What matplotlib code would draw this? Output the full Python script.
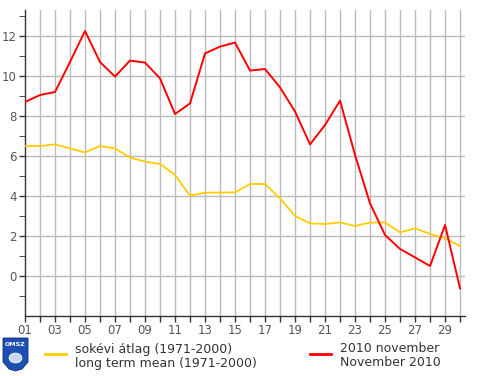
import matplotlib.pyplot as plt
from matplotlib.patches import Polygon, Circle
from matplotlib.lines import Line2D

# napok
days = list(range(1, 31))
# sokévi átlag (1971-2000)
mean_temp = [6.5, 6.5, 6.58, 6.38, 6.18, 6.5, 6.38, 5.92, 5.72, 5.6,
             5.05, 4.02, 4.17, 4.17, 4.18, 4.6, 4.6, 3.88, 3.0, 2.63,
             2.6, 2.68, 2.5, 2.67, 2.68, 2.18, 2.38, 2.1, 1.88, 1.5]
# 2010 november
nov2010 = [8.7, 9.05, 9.2, 10.7, 12.25, 10.7, 9.97, 10.77, 10.67, 9.88,
           8.1, 8.63, 11.13, 11.47, 11.67, 10.27, 10.35, 9.43, 8.22, 6.58,
           7.55, 8.77, 6.05, 3.63, 2.05, 1.35, 0.93, 0.5, 2.55, -0.62]
xlabels = ['%02d' % d if d % 2 == 1 else '' for d in days]

fig = plt.figure(figsize=(4.9, 3.76), dpi=100)
ax = fig.add_axes([25/490, 1-316/376, 440/490, 306/376])

ax.plot(days, mean_temp, color='#ffcc00', lw=1.3, zorder=3)
ax.plot(days, nov2010, color='#ff0000', lw=1.4, zorder=4)

ax.set_xlim(1, 30.33)
ax.set_ylim(-2, 13.3)
ax.set_xticks(days)
ax.set_xticklabels(xlabels)
ax.set_yticks(range(0, 13, 2))
ax.set_yticks(range(-1, 14, 2), minor=True)
ax.tick_params(axis='both', colors='#333333', labelcolor='#555555',
               labelsize=8.5, length=4, width=1, direction='out', pad=2)
ax.tick_params(axis='y', which='minor', length=4, colors='#333333')

for d in days[1:]:
    ax.axvline(d, color='#bbbbbb', lw=1, zorder=1)
for v in range(0, 13, 2):
    ax.axhline(v, color='#bbbbbb', lw=1, zorder=1)

for s in ['top', 'right']:
    ax.spines[s].set_visible(False)
for s in ['left', 'bottom']:
    ax.spines[s].set_color('#333333')
    ax.spines[s].set_linewidth(1)

# jelmagyarázat
fig.add_artist(Line2D([45/490, 66/490], [1-354/376, 1-354/376],
                      color='#ffcc00', lw=2))
fig.text(75/490, 1-349/376, 'sokévi átlag (1971-2000)', fontsize=9,
         color='#333333', va='center')
fig.text(75/490, 1-363/376, 'long term mean (1971-2000)', fontsize=9,
         color='#333333', va='center')
fig.add_artist(Line2D([310/490, 331/490], [1-354/376, 1-354/376],
                      color='#ff0000', lw=2))
fig.text(340/490, 1-349/376, '2010 november', fontsize=9,
         color='#333333', va='center')
fig.text(340/490, 1-363/376, 'November 2010', fontsize=9,
         color='#333333', va='center')

# OMSZ logo (pajzs)
shield = [(3, 338), (28, 338), (28, 362), (22, 369), (15.5, 371),
          (9, 369), (3, 362)]
fig.add_artist(Polygon([(x/490, 1-y/376) for x, y in shield], closed=True,
                       fc='#1c4fb0', ec='#0d2f7a', lw=0.6,
                       transform=fig.transFigure))
fig.text(15.5/490, 1-344/376, 'OMSZ', fontsize=4.5, color='white',
         ha='center', va='center', weight='bold')
fig.add_artist(Circle((15.5/490, 1-358/376), 0.013, fc='#c8d8f0',
                      ec='white', lw=0.6, transform=fig.transFigure))

fig.savefig('out.png', dpi=100)
